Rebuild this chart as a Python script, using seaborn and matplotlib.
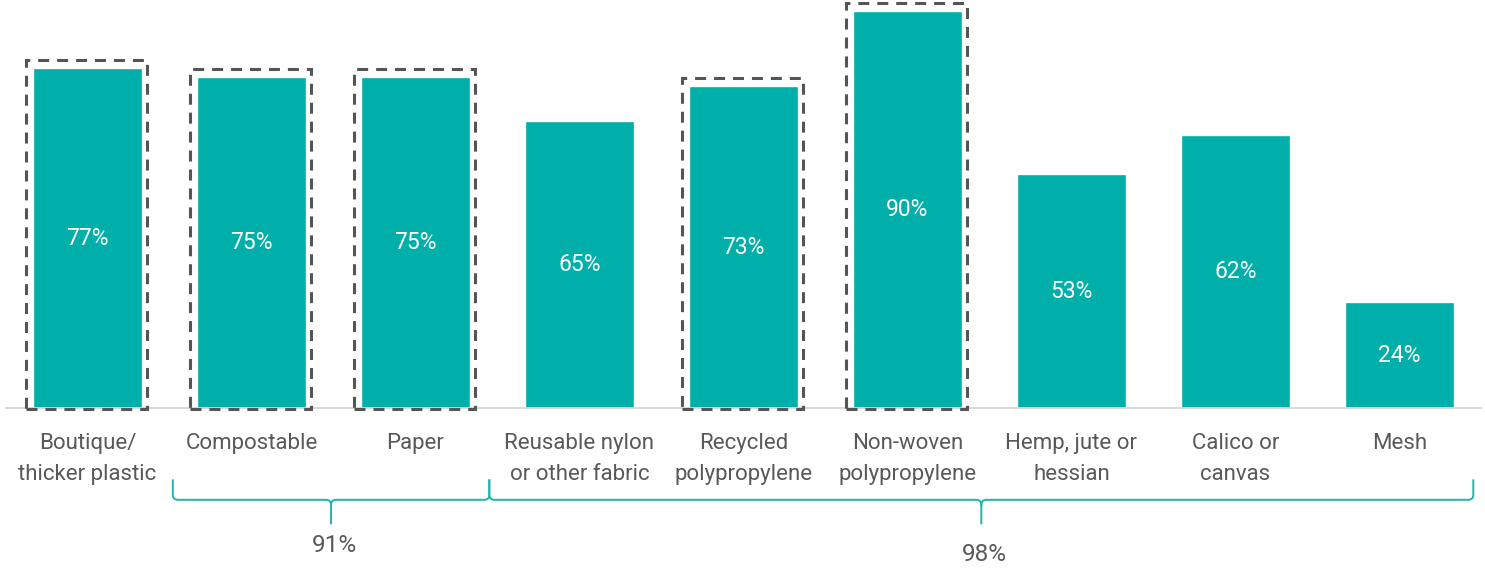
import matplotlib
matplotlib.use("Agg")
import matplotlib.pyplot as plt
import seaborn as sns
import pandas as pd
from matplotlib.path import Path
from matplotlib.patches import PathPatch, Rectangle
from matplotlib import transforms

categories = ["Boutique/\nthicker plastic", "Compostable", "Paper",
              "Reusable nylon\nor other fabric", "Recycled\npolypropylene",
              "Non-woven\npolypropylene", "Hemp, jute or\nhessian",
              "Calico or\ncanvas", "Mesh"]
values = [77, 75, 75, 65, 73, 90, 53, 62, 24]
highlighted = [True, True, True, False, True, True, False, False, False]
group_labels = ["91%", "98%"]
group_spans = [(0.52, 2.45), (2.45, 8.45)]

TEAL = "#00AFAA"
GREY = "#595959"

sns.set_theme(style="white")
plt.rcParams["font.family"] = ["Roboto", "DejaVu Sans"]

fig = plt.figure(figsize=(14.85, 5.71), dpi=100)
ax = fig.add_axes([5.5 / 1485, 163 / 571, 1476 / 1485, 408 / 571])

df = pd.DataFrame({"cat": categories, "val": values})
sns.barplot(data=df, x="cat", y="val", color=TEAL, saturation=1,
            width=0.665, ax=ax, order=categories)

ax.set_xlim(-0.5, 8.5)
ax.set_ylim(0, 92.5)
ax.set_xlabel("")
ax.set_ylabel("")
ax.set_yticks([])
for s in ["top", "left", "right"]:
    ax.spines[s].set_visible(False)
ax.spines["bottom"].set_color("#d6d6d6")
ax.spines["bottom"].set_linewidth(1.3)
ax.set_xticks(range(len(categories)))
ax.set_xticklabels(categories, linespacing=1.65)
ax.tick_params(axis="x", length=0, pad=18, labelsize=16, labelcolor=GREY)

for c in ax.containers:
    ax.bar_label(c, labels=[f"{v}%" for v in values], label_type="center",
                 color="white", fontsize=16.5)

# dashed highlight boxes
for i, (v, h) in enumerate(zip(values, highlighted)):
    if h:
        ax.add_patch(Rectangle((i - 0.372, -0.3), 0.732, v + 2.1,
                               fill=False, edgecolor="#555555", linewidth=2.2,
                               linestyle=(0, (3.6, 2.6)), clip_on=False,
                               zorder=5))

# braces
trans = transforms.blended_transform_factory(ax.transData, ax.transAxes)
ytop, yh, ytip = -0.175, -0.225, -0.285
rx, ry = 0.03, 0.013
for (x0, x1), lab, ly in zip(group_spans, group_labels, [-0.338, -0.36]):
    xm = (x0 + x1) / 2
    verts = [(x0, ytop), (x0, yh + ry), (x0, yh), (x0 + rx, yh),
             (xm - rx, yh), (xm, yh), (xm, yh - ry), (xm, ytip),
             (xm, yh - ry), (xm, yh), (xm + rx, yh),
             (x1 - rx, yh), (x1, yh), (x1, yh + ry), (x1, ytop)]
    codes = [Path.MOVETO, Path.LINETO, Path.CURVE3, Path.CURVE3,
             Path.LINETO, Path.CURVE3, Path.CURVE3, Path.LINETO,
             Path.MOVETO, Path.CURVE3, Path.CURVE3,
             Path.LINETO, Path.CURVE3, Path.CURVE3, Path.LINETO]
    ax.add_patch(PathPatch(Path(verts, codes), transform=trans, fill=False,
                           edgecolor="#1DB5AE", linewidth=1.4, clip_on=False))
    ax.text(xm + 0.02, ly, lab, transform=trans, ha="center", va="center",
            fontsize=17.5, color=GREY)

fig.savefig("out.png", dpi=100)
